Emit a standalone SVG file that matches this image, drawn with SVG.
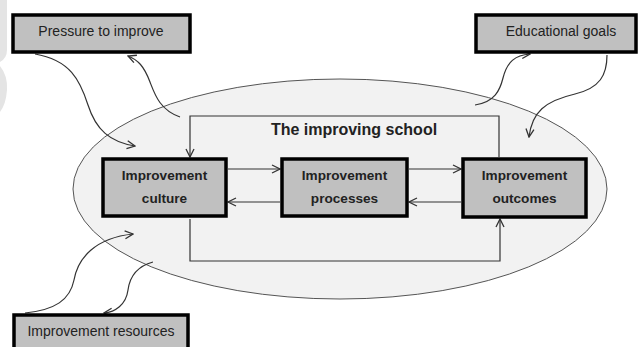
<svg xmlns="http://www.w3.org/2000/svg" width="638" height="347" viewBox="0 0 638 347">
<defs>
<style>
.box{fill:#c0c0c0;stroke:#000;stroke-width:3.5}
.lbl{font-family:"Liberation Sans",Arial,sans-serif;font-size:14px;fill:#222;text-anchor:middle}
.blbl{font-family:"Liberation Sans",Arial,sans-serif;font-size:13.6px;font-weight:bold;fill:#222;text-anchor:middle}
.con{fill:none;stroke:#333;stroke-width:1.2}
</style>
<marker id="arr" viewBox="0 0 10 10" refX="9" refY="5" markerWidth="10" markerHeight="10" markerUnits="userSpaceOnUse" orient="auto">
<path d="M1,1 L9,5 L1,9" fill="none" stroke="#333" stroke-width="1.3"/>
</marker>
</defs>
<rect width="638" height="347" fill="#fff"/>
<g id="watermark" fill="#e4e4e4">
<path d="M0,0 H7 V50 Q7,58 0,62 Z"/>
<path d="M0,66 Q8,76 7,90 Q6,104 0,112 Z"/>
</g>
<g id="school">
<ellipse cx="340" cy="189" rx="267" ry="110" fill="#f2f2f2" stroke="#555" stroke-width="1"/>
<text x="354" y="135" font-family="'Liberation Sans',Arial,sans-serif" font-size="16" font-weight="bold" fill="#222" text-anchor="middle">The improving school</text>
</g>
<g id="connectors">
<path class="con" d="M499,157 V116 H190 V157" marker-end="url(#arr)"/>
<path class="con" d="M190,219 V261 H500 V219" marker-end="url(#arr)"/>
<path class="con" d="M228,169 H280" marker-end="url(#arr)"/>
<path class="con" d="M280,202 H228" marker-end="url(#arr)"/>
<path class="con" d="M409,169 H461" marker-end="url(#arr)"/>
<path class="con" d="M461,202 H409" marker-end="url(#arr)"/>
<path class="con" d="M35,54 C70,60 80,80 88,105 C96,130 110,142 135,146" marker-end="url(#arr)"/>
<path class="con" d="M180,117 C160,110 155,95 150,82 C144,66 138,60 128,56" marker-end="url(#arr)"/>
<path class="con" d="M475,105 C495,102 500,90 503,78 C507,62 515,55 530,54" marker-end="url(#arr)"/>
<path class="con" d="M607,55 C607,75 600,88 575,94 C545,101 532,112 529,137" marker-end="url(#arr)"/>
<path class="con" d="M25,313 C55,310 70,300 74,280 C78,258 95,238 133,234" marker-end="url(#arr)"/>
<path class="con" d="M153,262 C138,266 130,275 128,290 C126,305 115,312 104,313" marker-end="url(#arr)"/>
</g>
<g id="pressure">
<rect class="box" x="13" y="15" width="177" height="37"/>
<text class="lbl" x="101" y="36">Pressure to improve</text>
</g>
<g id="goals">
<rect class="box" x="476" y="15" width="160" height="37"/>
<text class="lbl" x="561" y="36">Educational goals</text>
</g>
<g id="resources">
<rect class="box" x="14" y="315" width="174" height="40"/>
<text class="lbl" x="101" y="336">Improvement resources</text>
</g>
<g id="culture">
<rect class="box" x="103" y="159" width="123" height="57"/>
<text class="blbl" x="164.5" y="180">Improvement</text>
<text class="blbl" x="164.5" y="203">culture</text>
</g>
<g id="processes">
<rect class="box" x="282" y="159" width="125" height="57"/>
<text class="blbl" x="344.5" y="180">Improvement</text>
<text class="blbl" x="344.5" y="203">processes</text>
</g>
<g id="outcomes">
<rect class="box" x="463" y="159" width="123" height="58"/>
<text class="blbl" x="524.5" y="180">Improvement</text>
<text class="blbl" x="524.5" y="203">outcomes</text>
</g>
</svg>
